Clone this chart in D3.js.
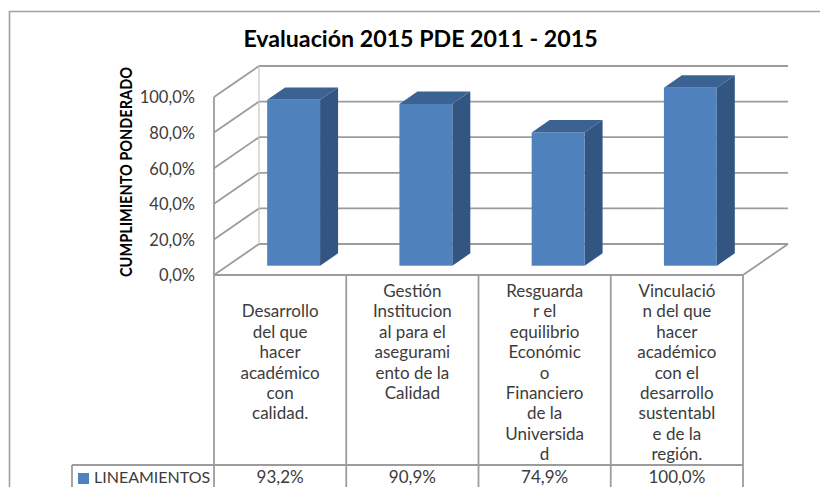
<!DOCTYPE html>
<html><head><meta charset="utf-8">
<script src="https://cdnjs.cloudflare.com/ajax/libs/d3/7.8.5/d3.min.js"></script>
<style>html,body{margin:0;padding:0;background:#fff}svg{display:block;font-family:Lato,"Open Sans",sans-serif}</style>
</head><body><svg id="c" width="820" height="487"></svg>
<script>
const chartTitle = "Evaluación 2015 PDE 2011 - 2015";
const yAxisTitle = "CUMPLIMIENTO PONDERADO";
const seriesName = "LINEAMIENTOS";
const categories = ["Desarrollo","Gestión","Resguardar","Vinculación"];
const categoryLines = [
  ["Desarrollo","del que","hacer","académico","con","calidad."],
  ["Gestión","Institucion","al para el","asegurami","ento de la","Calidad"],
  ["Resguarda","r el","equilibrio","Económic","o","Financiero","de la","Universida","d"],
  ["Vinculació","n del que","hacer","académico","con el","desarrollo","sustentabl","e de la","región."]
];
const labelStartLine = [1,0,0,0];
const values = [0.932,0.909,0.749,1.0];
const valueLabels = ["93,2%","90,9%","74,9%","100,0%"];
const yTicks = [0,0.2,0.4,0.6,0.8,1.0];

const svg = d3.select("#c");
const grid = "#9c9c9c", txt = "#3c3c3c";
const left=214, right=743, base=275, top_=97, dx=45, dy=-31, rowY=465, legendX=72, bottom=487;
const x = d3.scaleBand().domain(categories).range([left,right]);
const y = d3.scaleLinear().domain([0,1]).range([base,top_]);
const barW = x.bandwidth()*0.4;
const barX = c => x(c)+x.bandwidth()*0.3;
const frontD = 0.3, backD = 0.7;
const line = (a,b,c,d,w=1.8,col=grid)=>svg.append("line").attr("x1",a).attr("y1",b).attr("x2",c).attr("y2",d).attr("stroke",col).attr("stroke-width",w);

// frame
svg.append("path").attr("d",`M9.5,${bottom}V11.5H820`).attr("fill","none").attr("stroke","#a0a0a0").attr("stroke-width",1.6);

// title
svg.append("text").attr("x",420.5).attr("y",47).attr("text-anchor","middle").attr("font-size",23.2).attr("font-weight",700).attr("fill","#000").text(chartTitle);

// walls
yTicks.forEach(t=>{
  line(left,y(t),left+dx,y(t)+dy);
  line(left+dx,y(t)+dy,right+dx,y(t)+dy);
});
line(left,y(0),left,y(1));
line(left+dx,y(0)+dy,left+dx,y(1)+dy,1.2,"#c4c4c4");
line(right,y(0),right+dx,y(0)+dy);

// y axis labels
const yAxis = d3.axisLeft(y).tickValues(yTicks).tickSize(0).tickPadding(19)
  .tickFormat(d=>d3.format(".1f")(d*100).replace(".",",")+"%");
const ga = svg.append("g").attr("transform",`translate(${left},0.6)`).call(yAxis);
ga.select(".domain").remove();
ga.selectAll("text").attr("font-size",16.5).attr("fill",txt).attr("font-family","Lato,sans-serif");

// y title
svg.append("text").attr("transform","translate(131.5,172) rotate(-90)").attr("text-anchor","middle")
  .attr("font-size",17).attr("font-weight",700).attr("fill","#000")
  .attr("textLength",210).attr("lengthAdjust","spacingAndGlyphs").text(yAxisTitle);

// bars
const sx = dx*frontD, sy = dy*frontD, dX = dx*(backD-frontD), dY = dy*(backD-frontD);
categories.forEach((c,i)=>{
  const X=barX(c)+sx, Y=y(values[i])+sy, B=y(0)+sy, W=barW;
  svg.append("path").attr("fill","#335582").attr("d",`M${X+W},${Y}L${X+W+dX},${Y+dY}V${B+dY}L${X+W},${B}Z`);
  svg.append("path").attr("fill","#3b6292").attr("d",`M${X},${Y}L${X+dX},${Y+dY}H${X+W+dX}L${X+W},${Y}Z`);
  svg.append("rect").attr("x",X).attr("y",Y).attr("width",W).attr("height",B-Y).attr("fill","#4f81bd");
});

// table
line(left,base,right,base);
line(legendX,rowY,right,rowY);
line(legendX,rowY,legendX,bottom);
categories.concat(["end"]).forEach((c,i)=>{
  const xx = c==="end"?right:x(c);
  line(xx,base,xx,bottom);
});
categories.forEach((c,i)=>{
  const cx=x(c)+x.bandwidth()/2;
  categoryLines[i].forEach((t,j)=>{
    svg.append("text").attr("x",cx).attr("y",297+(j+labelStartLine[i])*20.4).attr("text-anchor","middle")
      .attr("font-size",17).attr("fill",txt).text(t);
  });
  svg.append("text").attr("x",cx).attr("y",483).attr("text-anchor","middle").attr("font-size",17).attr("fill",txt).text(valueLabels[i]);
});
svg.append("rect").attr("x",78).attr("y",473).attr("width",11).attr("height",11).attr("fill","#4f81bd");
svg.append("text").attr("x",94).attr("y",483).attr("font-size",16).attr("fill",txt).text(seriesName);
</script></body></html>
